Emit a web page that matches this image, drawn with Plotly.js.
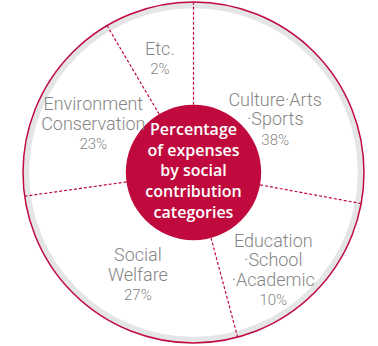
<!DOCTYPE html>
<html><head><meta charset="utf-8">
<script src="https://cdn.plot.ly/plotly-3.0.1.min.js"></script>
<style>html,body{margin:0;padding:0;background:#fff;}#chart{width:378px;height:346px;}</style>
</head><body><div id="chart"></div>
<script>
// ---- data ----
const categories = ["Culture·Arts<br>·Sports", "Education<br>·School<br>·Academic", "Social<br>Welfare", "Environment<br>Conservation", "Etc."];
const percentages = [38, 10, 27, 23, 2];
// angular size (degrees) of each wedge as drawn in the picture, clockwise from 12 o'clock
const sliceSpans = [100.5, 64.5, 97, 67.5, 30.5];
const centerTitle = ["Percentage", "of expenses", "by social", "contribution", "categories"];

// ---- layout / positions ----
const labelR = [0.567, 0.745, 0.69, 0.65, 0.69];
const labelTheta = [57.7, 141.1, 208.2, 295.3, 343.4];
const RED = "#c00a3e", GRAY_TEXT = "#858585", RING = "#e4e5e7";
const innerR = 0.397;
const R_PX = 170.5;        // polar radius in pixels
const LINE_PX = 19.5;      // line spacing of the labels

const starts = []; let acc = 0;
sliceSpans.forEach(s => { starts.push(acc); acc += s; });
const divR = [], divT = [];
starts.forEach(t => { divR.push(innerR, 1, null); divT.push(t, t, null); });

// split every label into single lines so the line spacing can match
const nameR = [], nameT = [], nameTxt = [], pctR = [], pctT = [], pctTxt = [];
function place(cx, cy, dyPx) {
  const x = cx, y = cy - dyPx / R_PX;
  return [Math.sqrt(x * x + y * y), Math.atan2(x, y) * 180 / Math.PI];
}
categories.forEach((c, i) => {
  const lines = c.split("<br>");
  const n = lines.length + 1;
  const th = labelTheta[i] * Math.PI / 180;
  const cx = labelR[i] * Math.sin(th), cy = labelR[i] * Math.cos(th);
  lines.forEach((ln, k) => {
    const p = place(cx, cy, (k - (n - 1) / 2) * LINE_PX);
    nameR.push(p[0]); nameT.push(p[1]); nameTxt.push(ln);
  });
  const p = place(cx, cy, (n - 1 - (n - 1) / 2) * LINE_PX + 1);
  pctR.push(p[0]); pctT.push(p[1]); pctTxt.push(percentages[i] + "%");
});

const traces = [
  { type: "barpolar", r: [0.036], base: [0.964], theta: [180], width: [360],
    marker: { color: RING, line: { width: 0 } }, hoverinfo: "skip" },
  { type: "scatterpolar", mode: "lines", r: divR, theta: divT, connectgaps: false,
    line: { color: RED, width: 1.2, dash: "3px,2px" }, hoverinfo: "skip" },
  { type: "barpolar", r: [innerR], base: [0], theta: [180], width: [360],
    marker: { color: RED, line: { width: 0 } }, hoverinfo: "skip" },
  { type: "scatterpolar", mode: "text", r: nameR, theta: nameT, text: nameTxt,
    textposition: "middle center",
    textfont: { family: "Roboto", size: 18, color: GRAY_TEXT, weight: 300 }, hoverinfo: "skip" },
  { type: "scatterpolar", mode: "text", r: pctR, theta: pctT, text: pctTxt,
    textposition: "middle center",
    textfont: { family: "Roboto", size: 15, color: GRAY_TEXT, weight: 300 }, hoverinfo: "skip" },
  { type: "scatterpolar", mode: "text", r: [0], theta: [0],
    text: [centerTitle.join("<br>")], textposition: "middle center",
    textfont: { family: "Open Sans", size: 16, color: "#ffffff", weight: 600 }, hoverinfo: "skip" }
];

const layout = {
  width: 378, height: 346,
  margin: { l: 23, r: 14, t: 2, b: 3, pad: 0 },
  paper_bgcolor: "#ffffff",
  showlegend: false,
  polar: {
    domain: { x: [0, 1], y: [0, 1] },
    bgcolor: "#ffffff",
    barmode: "overlay", bargap: 0,
    radialaxis: { range: [0, 1], visible: false, showgrid: false },
    angularaxis: { rotation: 90, direction: "clockwise", showgrid: false, showticklabels: false,
      ticks: "", showline: true, linecolor: RED, linewidth: 1.5 }
  }
};

Plotly.newPlot("chart", traces, layout, { staticPlot: true, displayModeBar: false });
</script></body></html>
